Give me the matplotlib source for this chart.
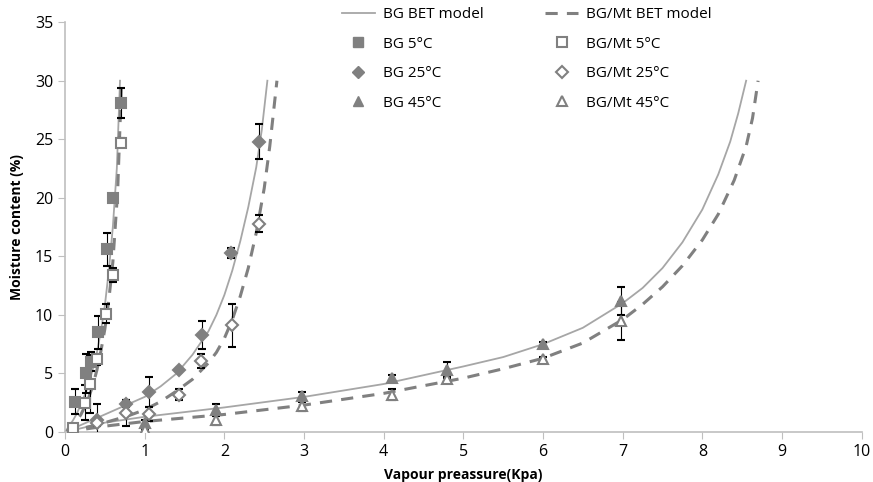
import matplotlib
matplotlib.use("Agg")
import matplotlib.pyplot as plt
from matplotlib.lines import Line2D

plt.rcParams['font.family'] = ['Open Sans', 'DejaVu Sans']

# measured points (vapour pressure kPa, moisture %, error)
bg5_x = [0.13, 0.26, 0.33, 0.41, 0.53, 0.60, 0.70]
bg5_y = [2.6, 5.0, 6.0, 8.5, 15.6, 20.0, 28.1]
bg5_e = [1.1, 1.7, 0.8, 1.4, 1.4, 0.3, 1.3]
mt5_x = [0.10, 0.25, 0.31, 0.40, 0.51, 0.60, 0.70]
mt5_y = [0.35, 2.5, 4.1, 6.2, 10.1, 13.4, 24.7]
mt5_e = [0.1, 1.5, 2.5, 0.5, 0.8, 0.6, 0.4]

bg25_x = [0.40, 0.77, 1.05, 1.43, 1.72, 2.08, 2.43]
bg25_y = [1.0, 2.4, 3.4, 5.3, 8.3, 15.3, 24.8]
bg25_e = [1.4, 0.3, 1.3, 0.2, 1.2, 0.4, 1.5]
mt25_x = [0.40, 0.77, 1.05, 1.43, 1.71, 2.09, 2.43]
mt25_y = [0.8, 1.6, 1.5, 3.2, 6.1, 9.1, 17.8]
mt25_e = [0.3, 1.1, 0.6, 0.5, 0.6, 1.8, 0.7]

bg45_x = [1.00, 1.90, 2.97, 4.10, 4.79, 6.00, 6.98]
bg45_y = [0.8, 1.9, 3.1, 4.6, 5.3, 7.5, 11.2]
bg45_e = [0.2, 0.5, 0.3, 0.3, 0.7, 0.2, 1.2]
mt45_x = [1.00, 1.90, 2.97, 4.10, 4.79, 6.00, 6.98]
mt45_y = [0.2, 1.0, 2.2, 3.2, 4.5, 6.2, 9.5]
mt45_e = [0.1, 0.4, 0.4, 0.5, 0.3, 0.2, 1.6]

# BET model curves
bet_bg5_x = [0.0, 0.05, 0.1, 0.15, 0.2, 0.25, 0.3, 0.35, 0.4, 0.45, 0.5, 0.55, 0.6, 0.65, 0.69]
bet_bg5_y = [0.0, 0.5, 1.0, 1.6, 2.4, 3.2, 4.2, 5.4, 6.8, 8.6, 10.8, 13.8, 17.5, 22.5, 30.0]
bet_mt5_x = [0.0, 0.05, 0.1, 0.15, 0.2, 0.25, 0.3, 0.35, 0.4, 0.45, 0.5, 0.55, 0.6, 0.66, 0.71]
bet_mt5_y = [0.0, 0.2, 0.5, 1.0, 1.5, 2.2, 3.0, 4.0, 5.3, 6.9, 8.8, 11.3, 14.5, 20.5, 30.0]

bet_bg25_x = [0.0, 0.2, 0.4, 0.6, 0.8, 1.0, 1.2, 1.4, 1.6, 1.8, 1.9, 2.0, 2.1,
              2.2, 2.3, 2.4, 2.47, 2.54]
bet_bg25_y = [0.0, 0.6, 1.2, 1.8, 2.4, 3.0, 3.9, 5.0, 6.6, 8.6, 10.0, 11.7, 13.8,
              16.3, 19.2, 22.6, 25.8, 30.0]
bet_mt25_x = [0.0, 0.2, 0.4, 0.6, 0.8, 1.0, 1.2, 1.4, 1.6, 1.8, 1.9, 2.0, 2.1,
              2.2, 2.3, 2.4, 2.5, 2.57, 2.66]
bet_mt25_y = [0.0, 0.3, 0.6, 1.0, 1.4, 1.9, 2.6, 3.5, 4.5, 5.9, 6.8, 8.0, 9.6,
              11.6, 14.0, 17.0, 20.8, 24.4, 30.0]

bet_bg45_x = [0.0, 0.5, 1.0, 2.0, 3.0, 4.0, 5.0, 5.5, 6.0, 6.5, 7.0, 7.25, 7.5,
              7.75, 8.0, 8.2, 8.35, 8.45, 8.55]
bet_bg45_y = [0.0, 0.8, 1.3, 2.1, 3.0, 4.1, 5.6, 6.4, 7.5, 8.9, 11.0, 12.3, 14.0,
              16.2, 19.0, 22.0, 24.8, 27.2, 30.0]
bet_mt45_x = [0.0, 0.5, 1.0, 2.0, 3.0, 4.0, 5.0, 5.5, 6.0, 6.5, 7.0, 7.25, 7.5,
              7.75, 8.0, 8.2, 8.4, 8.55, 8.63, 8.70]
bet_mt45_y = [0.0, 0.5, 0.9, 1.5, 2.3, 3.3, 4.6, 5.4, 6.3, 7.6, 9.6, 10.9, 12.4,
              14.2, 16.4, 18.6, 21.5, 24.4, 26.8, 30.0]

gray = '#808080'
line_gray = '#a6a6a6'

fig = plt.figure(figsize=(8.73, 4.82), dpi=100)
ax = fig.add_axes([0.0745, 0.1037, 0.9125, 0.8503])

for x, y in [(bet_bg5_x, bet_bg5_y), (bet_bg25_x, bet_bg25_y), (bet_bg45_x, bet_bg45_y)]:
    ax.plot(x, y, color=line_gray, lw=1.3, zorder=2)
for x, y in [(bet_mt5_x, bet_mt5_y), (bet_mt25_x, bet_mt25_y), (bet_mt45_x, bet_mt45_y)]:
    ax.plot(x, y, color=gray, lw=2.2, dashes=(4, 3), zorder=2)

series = [
    (bg5_x, bg5_y, bg5_e, 's', True),
    (bg25_x, bg25_y, bg25_e, 'D', True),
    (bg45_x, bg45_y, bg45_e, '^', True),
    (mt5_x, mt5_y, mt5_e, 's', False),
    (mt25_x, mt25_y, mt25_e, 'D', False),
    (mt45_x, mt45_y, mt45_e, '^', False),
]
for x, y, e, m, filled in series:
    ms = 7.5 if m != 'D' else 6.5
    ax.errorbar(x, y, yerr=e, fmt=m, ms=ms, mfc=gray if filled else 'white',
                mec=gray, mew=1.5, ecolor='black', elinewidth=0.8,
                capsize=3, capthick=0.8, zorder=3)

ax.set_xlim(0, 10)
ax.set_ylim(0, 35)
ax.set_xticks(range(0, 11))
ax.set_yticks(range(0, 36, 5))
for s in ['top', 'right']:
    ax.spines[s].set_visible(False)
for s in ['left', 'bottom']:
    ax.spines[s].set_color('#bfbfbf')
    ax.spines[s].set_linewidth(1.2)
ax.tick_params(axis='both', colors='#bfbfbf', labelcolor='black', labelsize=11.5, length=5)
ax.set_xlabel('Vapour preassure(Kpa)', fontsize=10, fontweight='bold', labelpad=6)
ax.set_ylabel('Moisture content (%)', fontsize=10, fontweight='bold', labelpad=8)

handles = [
    Line2D([], [], color=line_gray, lw=1.3),
    Line2D([], [], ls='none', marker='s', ms=7.5, mfc=gray, mec=gray),
    Line2D([], [], ls='none', marker='D', ms=6.5, mfc=gray, mec=gray),
    Line2D([], [], ls='none', marker='^', ms=7.5, mfc=gray, mec=gray),
    Line2D([], [], color=gray, lw=2.2, dashes=(4, 3)),
    Line2D([], [], ls='none', marker='s', ms=7.5, mfc='white', mec=gray, mew=1.5),
    Line2D([], [], ls='none', marker='D', ms=6.5, mfc='white', mec=gray, mew=1.5),
    Line2D([], [], ls='none', marker='^', ms=7.5, mfc='white', mec=gray, mew=1.5),
]
labels = ['BG BET model', 'BG 5°C', 'BG 25°C', 'BG 45°C',
          'BG/Mt BET model', 'BG/Mt 5°C', 'BG/Mt 25°C', 'BG/Mt 45°C']
ax.legend(handles, labels, ncol=2, loc='upper left', bbox_to_anchor=(0.33, 1.07),
          frameon=False, fontsize=11, handlelength=2.2, columnspacing=4.0,
          labelspacing=0.95, handletextpad=0.5)

fig.savefig('out.png', dpi=100)
